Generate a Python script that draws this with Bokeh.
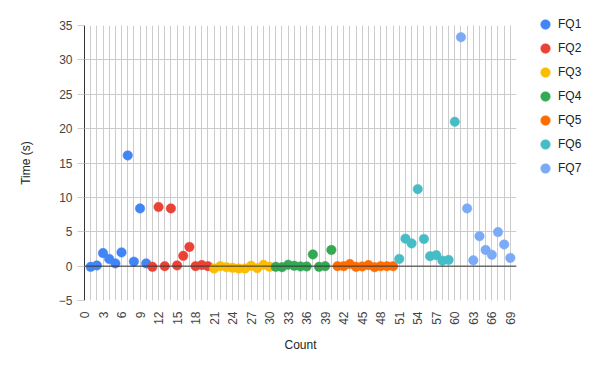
import numpy as np
from bokeh.plotting import figure
from bokeh.models import FixedTicker, Span, Legend, LegendItem
from bokeh.embed import file_html
from bokeh.resources import INLINE

series_names = ["FQ1", "FQ2", "FQ3", "FQ4", "FQ5", "FQ6", "FQ7"]
colors = ["#4285F4", "#EA4335", "#FBBC04", "#34A853", "#FF6D01", "#46BDC6", "#7BAAF7"]

fq1_x = [1, 2, 3, 4, 5, 6, 7, 8, 9, 10]
fq1_y = [-0.1, 0.1, 1.9, 1.05, 0.4, 2.0, 16.1, 0.65, 8.4, 0.4]
fq2_x = [11, 12, 13, 14, 15, 16, 17, 18, 19, 20]
fq2_y = [-0.1, 8.6, 0.0, 8.4, 0.1, 1.5, 2.8, 0.0, 0.15, 0.0]
fq3_x = [21, 22, 23, 24, 25, 26, 27, 28, 29, 30]
fq3_y = [-0.35, 0.0, -0.15, -0.25, -0.35, -0.35, 0.05, -0.3, 0.2, -0.1]
fq4_x = [31, 32, 33, 34, 35, 36, 37, 38, 39, 40]
fq4_y = [-0.1, -0.15, 0.2, 0.05, -0.05, -0.05, 1.7, -0.1, 0.0, 2.35]
fq5_x = [41, 42, 43, 44, 45, 46, 47, 48, 49, 50]
fq5_y = [0.0, 0.0, 0.3, -0.1, -0.05, 0.15, -0.15, 0.0, 0.0, 0.0]
fq6_x = [51, 52, 53, 54, 55, 56, 57, 58, 59, 60]
fq6_y = [1.05, 4.0, 3.3, 11.2, 3.95, 1.45, 1.6, 0.8, 0.9, 21.0]
fq7_x = [61, 62, 63, 64, 65, 66, 67, 68, 69]
fq7_y = [33.3, 8.4, 0.85, 4.35, 2.35, 1.65, 4.95, 3.15, 1.2]

series_x = [fq1_x, fq2_x, fq3_x, fq4_x, fq5_x, fq6_x, fq7_x]
series_y = [fq1_y, fq2_y, fq3_y, fq4_y, fq5_y, fq6_y, fq7_y]

x_ticks = list(range(0, 70, 3))
x_minor = list(range(0, 71))
y_ticks = [-5, 0, 5, 10, 15, 20, 25, 30, 35]

FONT = "Liberation Sans"

p = figure(output_backend="svg", toolbar_location=None,
           x_range=(0, 70), y_range=(-5, 35),
           min_border_left=84, min_border_top=25, min_border_right=76, min_border_bottom=63,
           frame_width=432, frame_height=275)
p.outline_line_color = None
p.background_fill_color = "white"

items = []
for name, c, xs, ys in zip(series_names, colors, series_x, series_y):
    r = p.scatter(xs, ys, size=9.5, fill_color=c, line_color=c, line_width=0.5)
    items.append(LegendItem(label=name, renderers=[r]))

zero = Span(location=0, dimension="width", line_color="#333333", line_width=1)
p.add_layout(zero)

p.xaxis.ticker = FixedTicker(ticks=x_ticks, minor_ticks=x_minor)
p.yaxis.ticker = FixedTicker(ticks=y_ticks)
for g in [p.xgrid[0], p.ygrid[0]]:
    g.grid_line_color = "#cccccc"
    g.grid_line_width = 1
p.xgrid.minor_grid_line_color = "#cccccc"
p.xgrid.minor_grid_line_width = 1

for ax in [p.xaxis[0], p.yaxis[0]]:
    ax.minor_tick_line_color = None
    ax.major_label_text_font = FONT
    ax.major_label_text_font_size = "12px"
    ax.major_label_text_color = "#444444"
    ax.axis_label_text_font = FONT
    ax.axis_label_text_font_size = "12px"
    ax.axis_label_text_font_style = "normal"
    ax.axis_label_text_color = "#222222"
    ax.major_tick_in = 0

p.xaxis.major_tick_line_color = None
p.xaxis.major_tick_out = 0
p.yaxis.major_tick_line_color = "#cccccc"
p.yaxis.major_tick_out = 7

p.xaxis.axis_line_color = None
p.yaxis.axis_line_color = "#333333"
p.xaxis.major_label_orientation = np.pi / 2
p.xaxis.major_label_standoff = 7
p.yaxis.major_label_standoff = 5
p.xaxis.axis_label = "Count"
p.yaxis.axis_label = "Time (s)"
p.xaxis.axis_label_standoff = 10
p.yaxis.axis_label_standoff = 23

legend = Legend(items=items, location=(17, 120), orientation="vertical",
                glyph_width=24, glyph_height=24, spacing=0, padding=0, margin=0,
                label_standoff=1, label_text_font=FONT, label_text_font_size="12px",
                label_height=24,
                label_text_color="#222222", border_line_color=None,
                background_fill_alpha=0)
p.add_layout(legend, "right")

open("out.html", "w").write(file_html(p, INLINE))
